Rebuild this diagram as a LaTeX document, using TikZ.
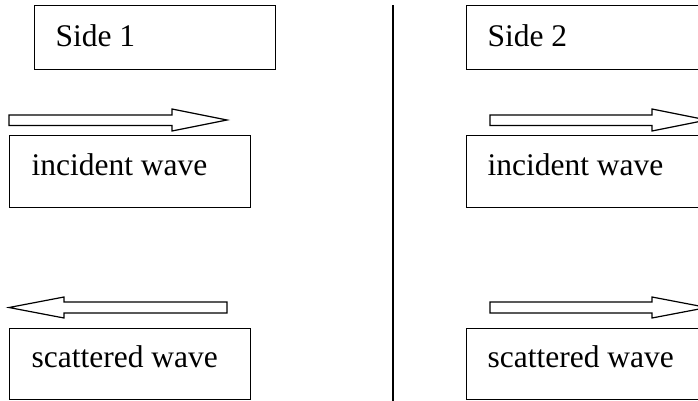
\documentclass[tikz,border=0pt]{standalone}
\usepackage{fontspec}
\setmainfont{Liberation Serif}
\begin{document}
\begin{tikzpicture}[x=1pt,y=-1pt,line width=1.2pt,
  boxstyle/.style={draw,rectangle,inner sep=0pt,anchor=north west},
  lbl/.style={anchor=base west,inner sep=0pt,font=\fontsize{31.5}{36}\selectfont},
  blockarrow/.style={draw,line join=miter,fill=white}]
\useasboundingbox (0,0) rectangle (698,400);
\begin{scope}
\clip (0,0) rectangle (698,400);
% Side 1
\node[boxstyle,minimum width=241pt,minimum height=64pt] (side1) at (34,5) {};
\node[lbl] (side1t) at (55,46.7) {Side 1};
\path[blockarrow] (9,115) -- (172,115) -- (172,109) -- (227,120) -- (172,131) -- (172,125.5) -- (9,125.5) -- cycle;
\node[boxstyle,minimum width=241pt,minimum height=72pt] (inc1) at (9,135) {};
\node[lbl] (inc1t) at (31,175) {incident wave};
\path[blockarrow] (9,307.5) -- (64,297) -- (64,302) -- (227,302) -- (227,313) -- (64,313) -- (64,318) -- cycle;
\node[boxstyle,minimum width=241pt,minimum height=71pt] (sc1) at (9,328) {};
\node[lbl] (sc1t) at (31,367) {scattered wave};
% divider
\coordinate (dtop) at (393,5);
\coordinate (dbot) at (393,402);
\draw[line width=1.4pt] (dtop) -- (dbot);
% Side 2
\node[boxstyle,minimum width=250pt,minimum height=64pt] (side2) at (466,5) {};
\node[lbl] (side2t) at (487,46.7) {Side 2};
\path[blockarrow] (490,115) -- (652,115) -- (652,109) -- (707,120) -- (652,131) -- (652,125.5) -- (490,125.5) -- cycle;
\node[boxstyle,minimum width=250pt,minimum height=72pt] (inc2) at (466,135) {};
\node[lbl] (inc2t) at (487,175) {incident wave};
\path[blockarrow] (490,302) -- (652,302) -- (652,297) -- (707,307.5) -- (652,318) -- (652,313) -- (490,313) -- cycle;
\node[boxstyle,minimum width=250pt,minimum height=71pt] (sc2) at (466,328) {};
\node[lbl] (sc2t) at (487,367) {scattered wave};
\end{scope}
\end{tikzpicture}
\end{document}
